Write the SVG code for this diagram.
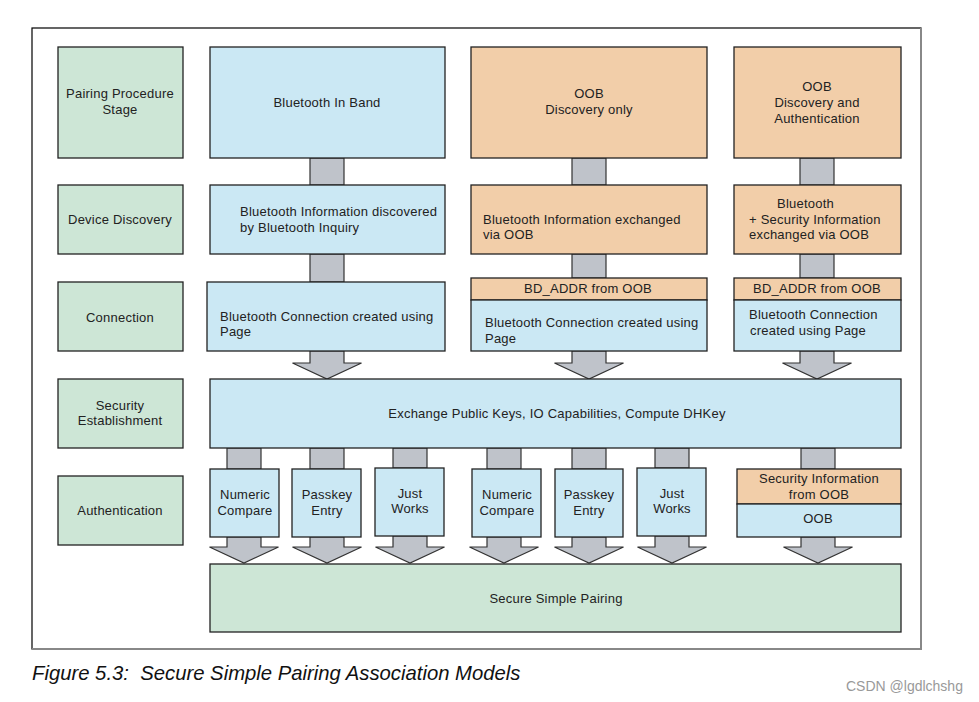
<svg xmlns="http://www.w3.org/2000/svg" width="979" height="702" viewBox="0 0 979 702">
<style>
  .g{fill:#cde6d6;stroke:#222;stroke-width:1.3}
  .b{fill:#cbe8f4;stroke:#222;stroke-width:1.3}
  .o{fill:#f2cea9;stroke:#222;stroke-width:1.3}
  .c{fill:#bfc3ca;stroke:#333;stroke-width:1.2}
  text{font-family:"Liberation Sans",Arial,sans-serif;font-size:13px;fill:#222;letter-spacing:0.22px}
  .m{text-anchor:middle}
</style>
<rect width="979" height="702" fill="#fff"/>
<g id="frame">
  <rect x="32" y="28" width="889" height="621" fill="#fff" stroke="#000" stroke-width="1.2"/>
  <path d="M921 28 V649 H32" fill="none" stroke="#888" stroke-width="2"/>
</g>
<g id="connectors">
  <rect class="c" x="310" y="158" width="34" height="27"/>
  <rect class="c" x="310" y="254" width="34" height="28"/>
  <rect class="c" x="572" y="158" width="34" height="27"/>
  <rect class="c" x="572" y="254" width="34" height="24"/>
  <rect class="c" x="800" y="158" width="34" height="27"/>
  <rect class="c" x="800" y="254" width="34" height="24"/>
  <path class="c" d="M310 351 H344 V363 H361.5 L327 379 L292.5 363 H310 Z"/>
  <path class="c" d="M572 351 H606 V363 H623.5 L589 379 L554.5 363 H572 Z"/>
  <path class="c" d="M800 351 H834 V363 H851.5 L817 379 L782.5 363 H800 Z"/>
  <rect class="c" x="227" y="448" width="34" height="21"/>
  <rect class="c" x="310" y="448" width="34" height="21"/>
  <rect class="c" x="393" y="448" width="34" height="20"/>
  <rect class="c" x="487" y="448" width="34" height="21"/>
  <rect class="c" x="572" y="448" width="34" height="21"/>
  <rect class="c" x="655" y="448" width="34" height="20"/>
  <rect class="c" x="801" y="448" width="34" height="21"/>
  <path class="c" d="M227 537 H261 V547 H278.5 L244 563 L209.5 547 H227 Z"/>
  <path class="c" d="M310 537 H344 V547 H361.5 L327 563 L292.5 547 H310 Z"/>
  <path class="c" d="M393 536 H427 V547 H444.5 L410 563 L375.5 547 H393 Z"/>
  <path class="c" d="M487 537 H521 V547 H538.5 L504 563 L469.5 547 H487 Z"/>
  <path class="c" d="M572 537 H606 V547 H623.5 L589 563 L554.5 547 H572 Z"/>
  <path class="c" d="M655 536 H689 V547 H706.5 L672 563 L637.5 547 H655 Z"/>
  <path class="c" d="M801 537 H835 V547 H852.5 L818 563 L783.5 547 H801 Z"/>
</g>
<g id="stage-pairing"><rect class="g" x="58" y="47" width="125" height="111"/><text class="m" x="120" y="98">Pairing Procedure</text><text class="m" x="120" y="114">Stage</text></g>
<g id="stage-discovery"><rect class="g" x="58" y="185" width="125" height="69"/><text class="m" x="120" y="224">Device Discovery</text></g>
<g id="stage-connection"><rect class="g" x="58" y="282" width="125" height="69"/><text class="m" x="120" y="322">Connection</text></g>
<g id="stage-security"><rect class="g" x="58" y="379" width="125" height="69"/><text class="m" x="120" y="410">Security</text><text class="m" x="120" y="425">Establishment</text></g>
<g id="stage-auth"><rect class="g" x="58" y="476" width="125" height="69"/><text class="m" x="120" y="515">Authentication</text></g>

<g id="inband"><rect class="b" x="210" y="47" width="235" height="111"/><text class="m" x="327" y="107">Bluetooth In Band</text></g>
<g id="inband-discovery"><rect class="b" x="210" y="185" width="235" height="69"/><text x="240" y="216">Bluetooth Information discovered</text><text x="240" y="232">by Bluetooth Inquiry</text></g>
<g id="inband-connection"><rect class="b" x="207" y="282" width="238" height="69"/><text x="220" y="321">Bluetooth Connection created using</text><text x="220" y="336">Page</text></g>

<g id="oob-discovery"><rect class="o" x="471" y="47" width="236" height="111"/><text class="m" x="589" y="98">OOB</text><text class="m" x="589" y="114">Discovery only</text></g>
<g id="oob-discovery-info"><rect class="o" x="471" y="185" width="236" height="69"/><text x="483" y="224">Bluetooth Information exchanged</text><text x="483" y="239">via OOB</text></g>
<g id="oob-discovery-conn"><rect class="o" x="471" y="278" width="236" height="22"/><text class="m" x="588" y="293">BD_ADDR from OOB</text><rect class="b" x="471" y="300" width="236" height="51"/><text x="485" y="327">Bluetooth Connection created using</text><text x="485" y="343">Page</text></g>

<g id="oob-auth"><rect class="o" x="734" y="47" width="167" height="111"/><text class="m" x="817" y="91">OOB</text><text class="m" x="817" y="107">Discovery and</text><text class="m" x="817" y="123">Authentication</text></g>
<g id="oob-auth-info"><rect class="o" x="734" y="185" width="167" height="69"/><text x="777" y="208">Bluetooth</text><text x="749" y="224">+ Security Information</text><text x="749" y="239">exchanged via OOB</text></g>
<g id="oob-auth-conn"><rect class="o" x="734" y="278" width="167" height="22"/><text class="m" x="817" y="293">BD_ADDR from OOB</text><rect class="b" x="734" y="300" width="167" height="51"/><text x="749" y="319">Bluetooth Connection</text><text x="750" y="335">created using Page</text></g>

<g id="security"><rect class="b" x="210" y="379" width="691" height="69"/><text class="m" x="557" y="418">Exchange Public Keys, IO Capabilities, Compute DHKey</text></g>

<g id="nc1"><rect class="b" x="210" y="469" width="69" height="68"/><text class="m" x="245" y="499">Numeric</text><text class="m" x="245" y="515">Compare</text></g>
<g id="pe1"><rect class="b" x="292" y="469" width="69" height="68"/><text class="m" x="327" y="499">Passkey</text><text class="m" x="327" y="515">Entry</text></g>
<g id="jw1"><rect class="b" x="375" y="468" width="69" height="68"/><text class="m" x="410" y="498">Just</text><text class="m" x="410" y="513">Works</text></g>
<g id="nc2"><rect class="b" x="472" y="469" width="69" height="68"/><text class="m" x="507" y="499">Numeric</text><text class="m" x="507" y="515">Compare</text></g>
<g id="pe2"><rect class="b" x="555" y="469" width="68" height="68"/><text class="m" x="589" y="499">Passkey</text><text class="m" x="589" y="515">Entry</text></g>
<g id="jw2"><rect class="b" x="637" y="468" width="69" height="68"/><text class="m" x="672" y="498">Just</text><text class="m" x="672" y="513">Works</text></g>
<g id="oob"><rect class="o" x="737" y="469" width="164" height="35"/><text class="m" x="819" y="483">Security Information</text><text class="m" x="819" y="499">from OOB</text><rect class="b" x="737" y="504" width="164" height="33"/><text class="m" x="818" y="523">OOB</text></g>

<g id="ssp"><rect class="g" x="210" y="564" width="691" height="68"/><text class="m" x="556" y="603">Secure Simple Pairing</text></g>

<text x="32" y="680" xml:space="preserve" style="font-size:20.3px;font-style:italic;fill:#111;letter-spacing:0;white-space:pre">Figure 5.3:  Secure Simple Pairing Association Models</text>
<text x="846" y="691" style="font-size:14px;fill:#999;letter-spacing:0">CSDN @lgdlchshg</text>
</svg>
